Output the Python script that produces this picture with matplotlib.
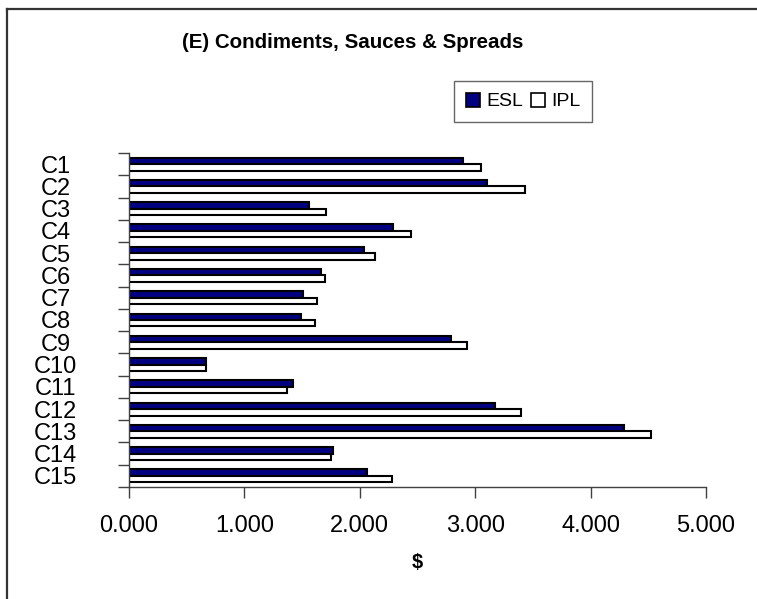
import matplotlib
matplotlib.use("Agg")
import matplotlib.pyplot as plt
import numpy as np
from matplotlib.lines import Line2D
from matplotlib.patches import Patch

plt.rcParams["font.family"] = ["Liberation Sans", "DejaVu Sans"]

categories = ["C1", "C2", "C3", "C4", "C5", "C6", "C7", "C8",
              "C9", "C10", "C11", "C12", "C13", "C14", "C15"]
esl = [2.89, 3.10, 1.56, 2.29, 2.04, 1.66, 1.51, 1.49,
       2.79, 0.67, 1.42, 3.17, 4.29, 1.77, 2.06]
ipl = [3.05, 3.43, 1.71, 2.44, 2.13, 1.70, 1.63, 1.61,
       2.93, 0.67, 1.37, 3.40, 4.52, 1.75, 2.28]
x_ticks = [0, 1, 2, 3, 4, 5]

W, H = 757, 599
fig = plt.figure(figsize=(W / 100, H / 100), dpi=100)
ax = fig.add_axes([129 / W, 1 - 487 / H, (706 - 129) / W, (487 - 153) / H])

ys = np.arange(len(categories))
bh = 0.29
ax.barh(ys - bh / 2, esl, height=bh, color="#000080", edgecolor="black", linewidth=1.5)
ax.barh(ys + bh / 2, ipl, height=bh, color="white", edgecolor="black", linewidth=1.5)

ax.set_xlim(0, 5)
ax.set_ylim(len(categories) - 0.5, -0.5)

ax.set_xticks(x_ticks)
ax.set_xticklabels([f"{v:.3f}" for v in x_ticks], fontsize=17)
ax.tick_params(axis="x", length=8, width=1, color="#404040", pad=12)

# category boundary ticks, labels centred between them
ax.set_yticks(np.arange(-0.5, len(categories) + 0.5, 1))
ax.set_yticklabels([])
ax.tick_params(axis="y", which="major", length=8, width=1, color="#404040")
ax.set_yticks(ys, minor=True)
ax.set_yticklabels(categories, minor=True, fontsize=17, ha="center")
ax.tick_params(axis="y", which="minor", length=0, pad=53)

for side in ["top", "right"]:
    ax.spines[side].set_visible(False)
for side in ["left", "bottom"]:
    ax.spines[side].set_color("#404040")
    ax.spines[side].set_linewidth(1)

fig.text(353 / W, 1 - 42 / H, "(E) Condiments, Sauces & Spreads",
         ha="center", va="center", fontsize=14.8, fontweight="bold")
fig.text(417 / W, 1 - 563 / H, "$", ha="center", va="center",
         fontsize=14.5, fontweight="bold")

handles = [Patch(facecolor="#000080", edgecolor="black", linewidth=1.2, label="ESL"),
           Patch(facecolor="white", edgecolor="black", linewidth=1.2, label="IPL")]
leg = fig.legend(handles=handles, ncol=2, loc="center",
                 bbox_to_anchor=(523 / W, 1 - 101.5 / H), fontsize=14,
                 frameon=True, fancybox=False, shadow=False,
                 handlelength=0.75, handleheight=0.75, handletextpad=0.3,
                 columnspacing=0.4, borderpad=0.6, borderaxespad=0)
leg.get_frame().set_edgecolor("#404040")
leg.get_frame().set_linewidth(1)

# chart border (left and top edges visible)
fig.add_artist(Line2D([7 / W, 7 / W], [0, 1 - 9 / H], transform=fig.transFigure,
                      color="#333333", linewidth=1.6))
fig.add_artist(Line2D([7 / W, 1], [1 - 9 / H, 1 - 9 / H], transform=fig.transFigure,
                      color="#333333", linewidth=1.6))

fig.savefig("out.png", dpi=100)
